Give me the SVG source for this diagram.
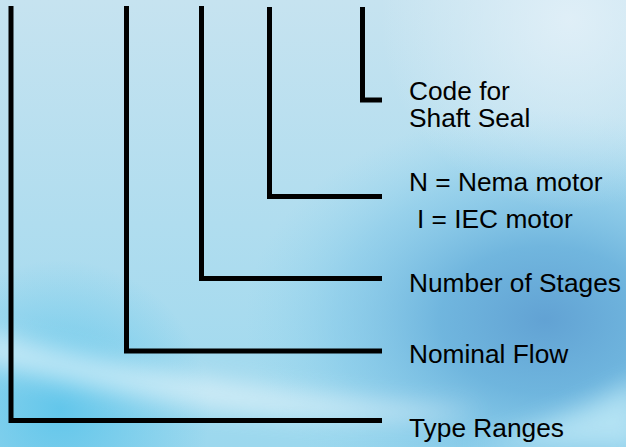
<svg xmlns="http://www.w3.org/2000/svg" width="626" height="447" viewBox="0 0 626 447">
  <defs>
    <linearGradient id="bg" x1="0" y1="0" x2="0" y2="1">
      <stop offset="0" stop-color="#c6e3f0"/>
      <stop offset="0.5" stop-color="#b0ddef"/>
      <stop offset="1" stop-color="#9cd8ee"/>
    </linearGradient>
    <radialGradient id="dark" cx="545" cy="320" r="300" gradientUnits="userSpaceOnUse" gradientTransform="translate(545 320) scale(1 0.7) translate(-545 -320)">
      <stop offset="0" stop-color="#5e9fd2" stop-opacity="0.95"/>
      <stop offset="0.35" stop-color="#66afdb" stop-opacity="0.85"/>
      <stop offset="0.7" stop-color="#78c2e6" stop-opacity="0.45"/>
      <stop offset="1" stop-color="#8ed3ee" stop-opacity="0"/>
    </radialGradient>
    <radialGradient id="topl" cx="570" cy="20" r="190" gradientUnits="userSpaceOnUse">
      <stop offset="0" stop-color="#e2f0f8" stop-opacity="0.9"/>
      <stop offset="1" stop-color="#e2f0f8" stop-opacity="0"/>
    </radialGradient>
    <radialGradient id="cyan" cx="60" cy="410" r="150" gradientUnits="userSpaceOnUse">
      <stop offset="0" stop-color="#58c3ea" stop-opacity="0.85"/>
      <stop offset="1" stop-color="#58c3ea" stop-opacity="0"/>
    </radialGradient>
    <filter id="blur" x="-50%" y="-50%" width="200%" height="200%">
      <feGaussianBlur stdDeviation="12"/>
    </filter>
    <style>
      .ln { fill: none; stroke: #000; stroke-width: 5; stroke-linecap: butt; stroke-linejoin: miter; }
      .t { font-family: "Liberation Sans", Arial, sans-serif; font-size: 26.3px; fill: #000; }
    </style>
  </defs>

  <g id="background">
    <rect width="626" height="447" fill="url(#bg)"/>
    <rect width="626" height="447" fill="url(#cyan)"/>
    <rect width="626" height="447" fill="url(#dark)"/>
    <rect width="626" height="447" fill="url(#topl)"/>
    <path d="M -20 330 C 120 370, 300 400, 480 410 C 420 430, 200 420, -20 360 Z" fill="#ffffff" opacity="0.55" filter="url(#blur)"/>
    <path d="M 470 447 C 550 425, 600 400, 640 380 L 640 447 Z" fill="#c4ecf8" opacity="0.75" filter="url(#blur)"/>
  </g>

  <g id="connectors">
    <path class="ln" d="M 11 6 V 420.5 H 382"/>
    <path class="ln" d="M 126.5 6 V 351 H 382"/>
    <path class="ln" d="M 201.5 6 V 278.5 H 382"/>
    <path class="ln" d="M 269.5 7 V 196.5 H 382"/>
    <path class="ln" d="M 362.5 7 V 100 H 382"/>
  </g>

  <g id="shaft-seal">
    <text class="t" x="409" y="100">Code for</text>
    <text class="t" x="409" y="126.5">Shaft Seal</text>
  </g>
  <g id="motor">
    <text class="t" x="409" y="191">N = Nema motor</text>
    <text class="t" x="417" y="228">I = IEC motor</text>
  </g>
  <g id="stages">
    <text class="t" x="409" y="292">Number of Stages</text>
  </g>
  <g id="flow">
    <text class="t" x="409" y="363">Nominal Flow</text>
  </g>
  <g id="type">
    <text class="t" x="409" y="437">Type Ranges</text>
  </g>
</svg>
